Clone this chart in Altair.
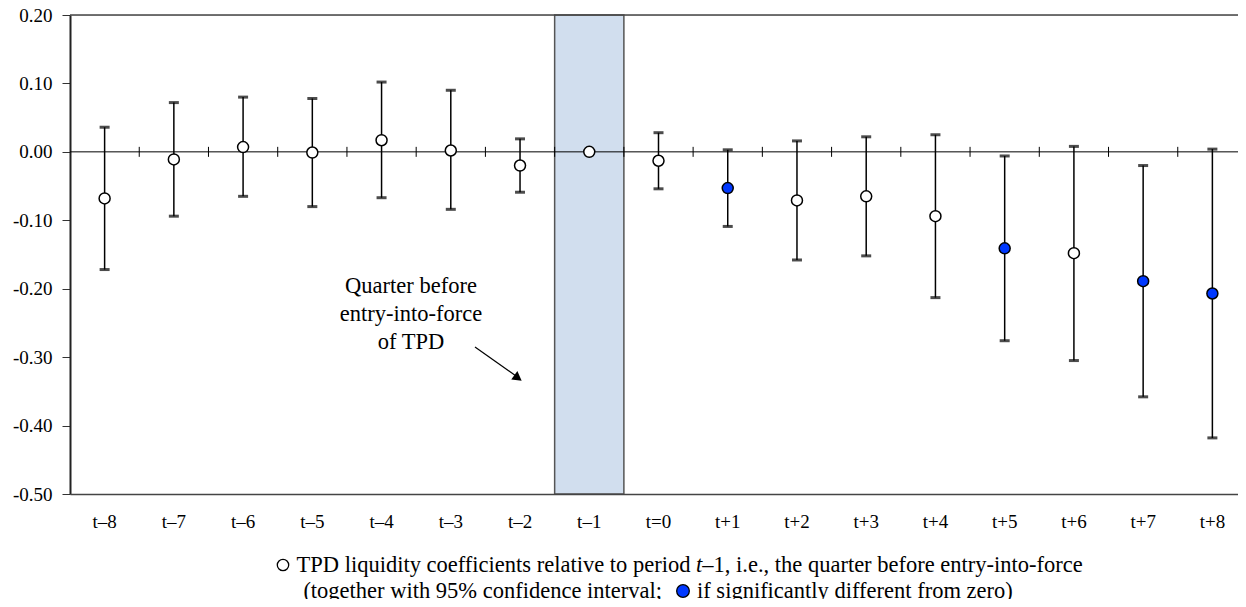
import altair as alt
import pandas as pd

periods = ["t–8", "t–7", "t–6", "t–5", "t–4", "t–3", "t–2", "t–1", "t=0",
           "t+1", "t+2", "t+3", "t+4", "t+5", "t+6", "t+7", "t+8"]
coef = [-0.068, -0.011, 0.007, -0.001, 0.017, 0.002, -0.020, 0.000, -0.013,
        -0.053, -0.071, -0.065, -0.094, -0.141, -0.148, -0.189, -0.207]
upper = [0.036, 0.072, 0.080, 0.078, 0.102, 0.090, 0.019, None, 0.028,
         0.003, 0.016, 0.022, 0.025, -0.006, 0.008, -0.020, 0.004]
lower = [-0.172, -0.094, -0.065, -0.080, -0.067, -0.084, -0.059, None, -0.054,
         -0.109, -0.158, -0.152, -0.213, -0.276, -0.305, -0.358, -0.418]
significant = [False, False, False, False, False, False, False, False, False,
               True, False, False, False, True, False, True, True]
reference_period = "t–1"
y_ticks = [-0.5, -0.4, -0.3, -0.2, -0.1, 0.0, 0.1, 0.2]
annotation_lines = ["Quarter before", "entry-into-force", "of TPD"]
legend1_a = "TPD liquidity coefficients relative to period"
legend1_b = "t"
legend1_c = "–1, i.e., the quarter before entry-into-force"
legend2_a = "(together with 95% confidence interval;"
legend2_b = "if significantly different from zero)"

FONT = "Liberation Serif"
FS = 19
LFS = 22.5
BLUE = "#0038FF"
W = 1168
RANGE_W = 1177
H = 479

df = pd.DataFrame({"period": periods, "coef": coef, "upper": upper,
                   "lower": lower, "sig": significant})
df_err = df.dropna()
df_ref = df[df["period"] == reference_period]
df_bound = df.iloc[1:]
one = pd.DataFrame({"k": [0]})

xscale = alt.Scale(domain=periods, range=[0, RANGE_W], paddingInner=0, paddingOuter=0)
yscale = alt.Scale(domain=[-0.5, 0.2], nice=False, zero=False)

xaxis = alt.Axis(orient="bottom", ticks=False, labelAngle=0, title=None,
                 labelFont=FONT, labelFontSize=FS, labelColor="black",
                 labelPadding=18, domainColor="#444", domainWidth=1.5, grid=False)
yaxis = alt.Axis(values=y_ticks, labelExpr="replace(format(datum.value, '.2f'), '−', '-')",
                 grid=False, tickSize=8, tickColor="#333", tickWidth=1,
                 labelFont=FONT, labelFontSize=FS, labelColor="black",
                 labelPadding=10, domainColor="#222", domainWidth=2, title=None)

def X(**kw):
    return alt.X("period:N", scale=xscale, sort=periods, axis=xaxis, title=None, **kw)

def Y(field):
    return alt.Y(field, scale=yscale, axis=yaxis, title=None)

shade = alt.Chart(df_ref).mark_rect(fill="#D1DEEE", stroke="#555", strokeWidth=1.5).encode(
    x=X()
)

zero_line = alt.Chart(one).mark_rule(color="black", strokeWidth=1).encode(
    x=alt.value(0), x2=alt.value(RANGE_W),
    y=alt.datum(0, scale=yscale, axis=yaxis),
)

top_line = alt.Chart(one).mark_rule(color="#444", strokeWidth=1.5).encode(
    x=alt.value(0), x2=alt.value(RANGE_W), y=alt.datum(0.2, scale=yscale, axis=yaxis)
)

zero_ticks = alt.Chart(df_bound).mark_rule(color="black", strokeWidth=1, yOffset=-5, y2Offset=5).encode(
    x=X(bandPosition=0),
    y=alt.datum(0, scale=yscale, axis=yaxis), y2=alt.datum(0),
)

err = alt.Chart(df_err).mark_rule(color="black", strokeWidth=1.5).encode(
    x=X(), y=Y("lower:Q"), y2="upper:Q"
)
cap_hi = alt.Chart(df_err).mark_tick(color="black", size=10, thickness=3).encode(
    x=X(), y=Y("upper:Q")
)
cap_lo = alt.Chart(df_err).mark_tick(color="black", size=10, thickness=3).encode(
    x=X(), y=Y("lower:Q")
)

pts = alt.Chart(df).mark_point(shape="circle", size=121, filled=True, stroke="black",
                               strokeWidth=1.5, opacity=1).encode(
    x=X(), y=Y("coef:Q"),
    fill=alt.condition("datum.sig", alt.value(BLUE), alt.value("white")),
)

annot = alt.Chart(one).mark_text(font=FONT, fontSize=LFS, align="center", baseline="middle",
                                 lineHeight=28, color="black").encode(
    x=alt.value(341), y=alt.value(271), text=alt.value(annotation_lines)
)
arrow_line = alt.Chart(one).mark_rule(color="black", strokeWidth=1.2).encode(
    x=alt.value(405), y=alt.value(332), x2=alt.value(446), y2=alt.value(361)
)
arrow_head = alt.Chart(one).mark_point(shape="triangle-right", size=110, filled=True,
                                       color="black", angle=36, opacity=1).encode(
    x=alt.value(448), y=alt.value(363)
)

def txt(s, x, y, align, style="normal"):
    return alt.Chart(one).mark_text(font=FONT, fontSize=LFS, align=align, baseline="middle",
                                    fontStyle=style, color="black").encode(
        x=alt.value(x), y=alt.value(y), text=alt.value(s))

L1Y = 550
L2Y = 576
XT = 626   # x of italic t (plot coords)
leg_circle = alt.Chart(one).mark_point(shape="circle", size=130, filled=False, stroke="black",
                                       strokeWidth=1.3, opacity=1).encode(
    x=alt.value(213), y=alt.value(L1Y))
leg_dot = alt.Chart(one).mark_point(shape="circle", size=160, filled=True, fill=BLUE,
                                    stroke="black", strokeWidth=1.3, opacity=1).encode(
    x=alt.value(613), y=alt.value(L2Y))

chart = alt.layer(
    shade, zero_line, top_line, zero_ticks, err, cap_hi, cap_lo, pts,
    annot, arrow_line, arrow_head,
    leg_circle,
    txt(legend1_a, XT - 5.6, L1Y, "right"),
    txt(legend1_b, XT, L1Y, "left", "italic"),
    txt(legend1_c, XT + 6.3, L1Y, "left"),
    txt(legend2_a, 592, L2Y, "right"),
    leg_dot,
    txt(legend2_b, 627, L2Y, "left"),
).properties(
    width=W, height=H,
    autosize=alt.AutoSizeParams(type="none"),
    padding={"left": 62, "top": 7, "right": 0, "bottom": 105},
).configure_view(stroke=None).configure(background="white").configure_axis(
    labelFont=FONT, labelFontSize=FS, labelColor="black"
)

chart.save("out.html", embed_options={"renderer": "svg", "actions": False})
